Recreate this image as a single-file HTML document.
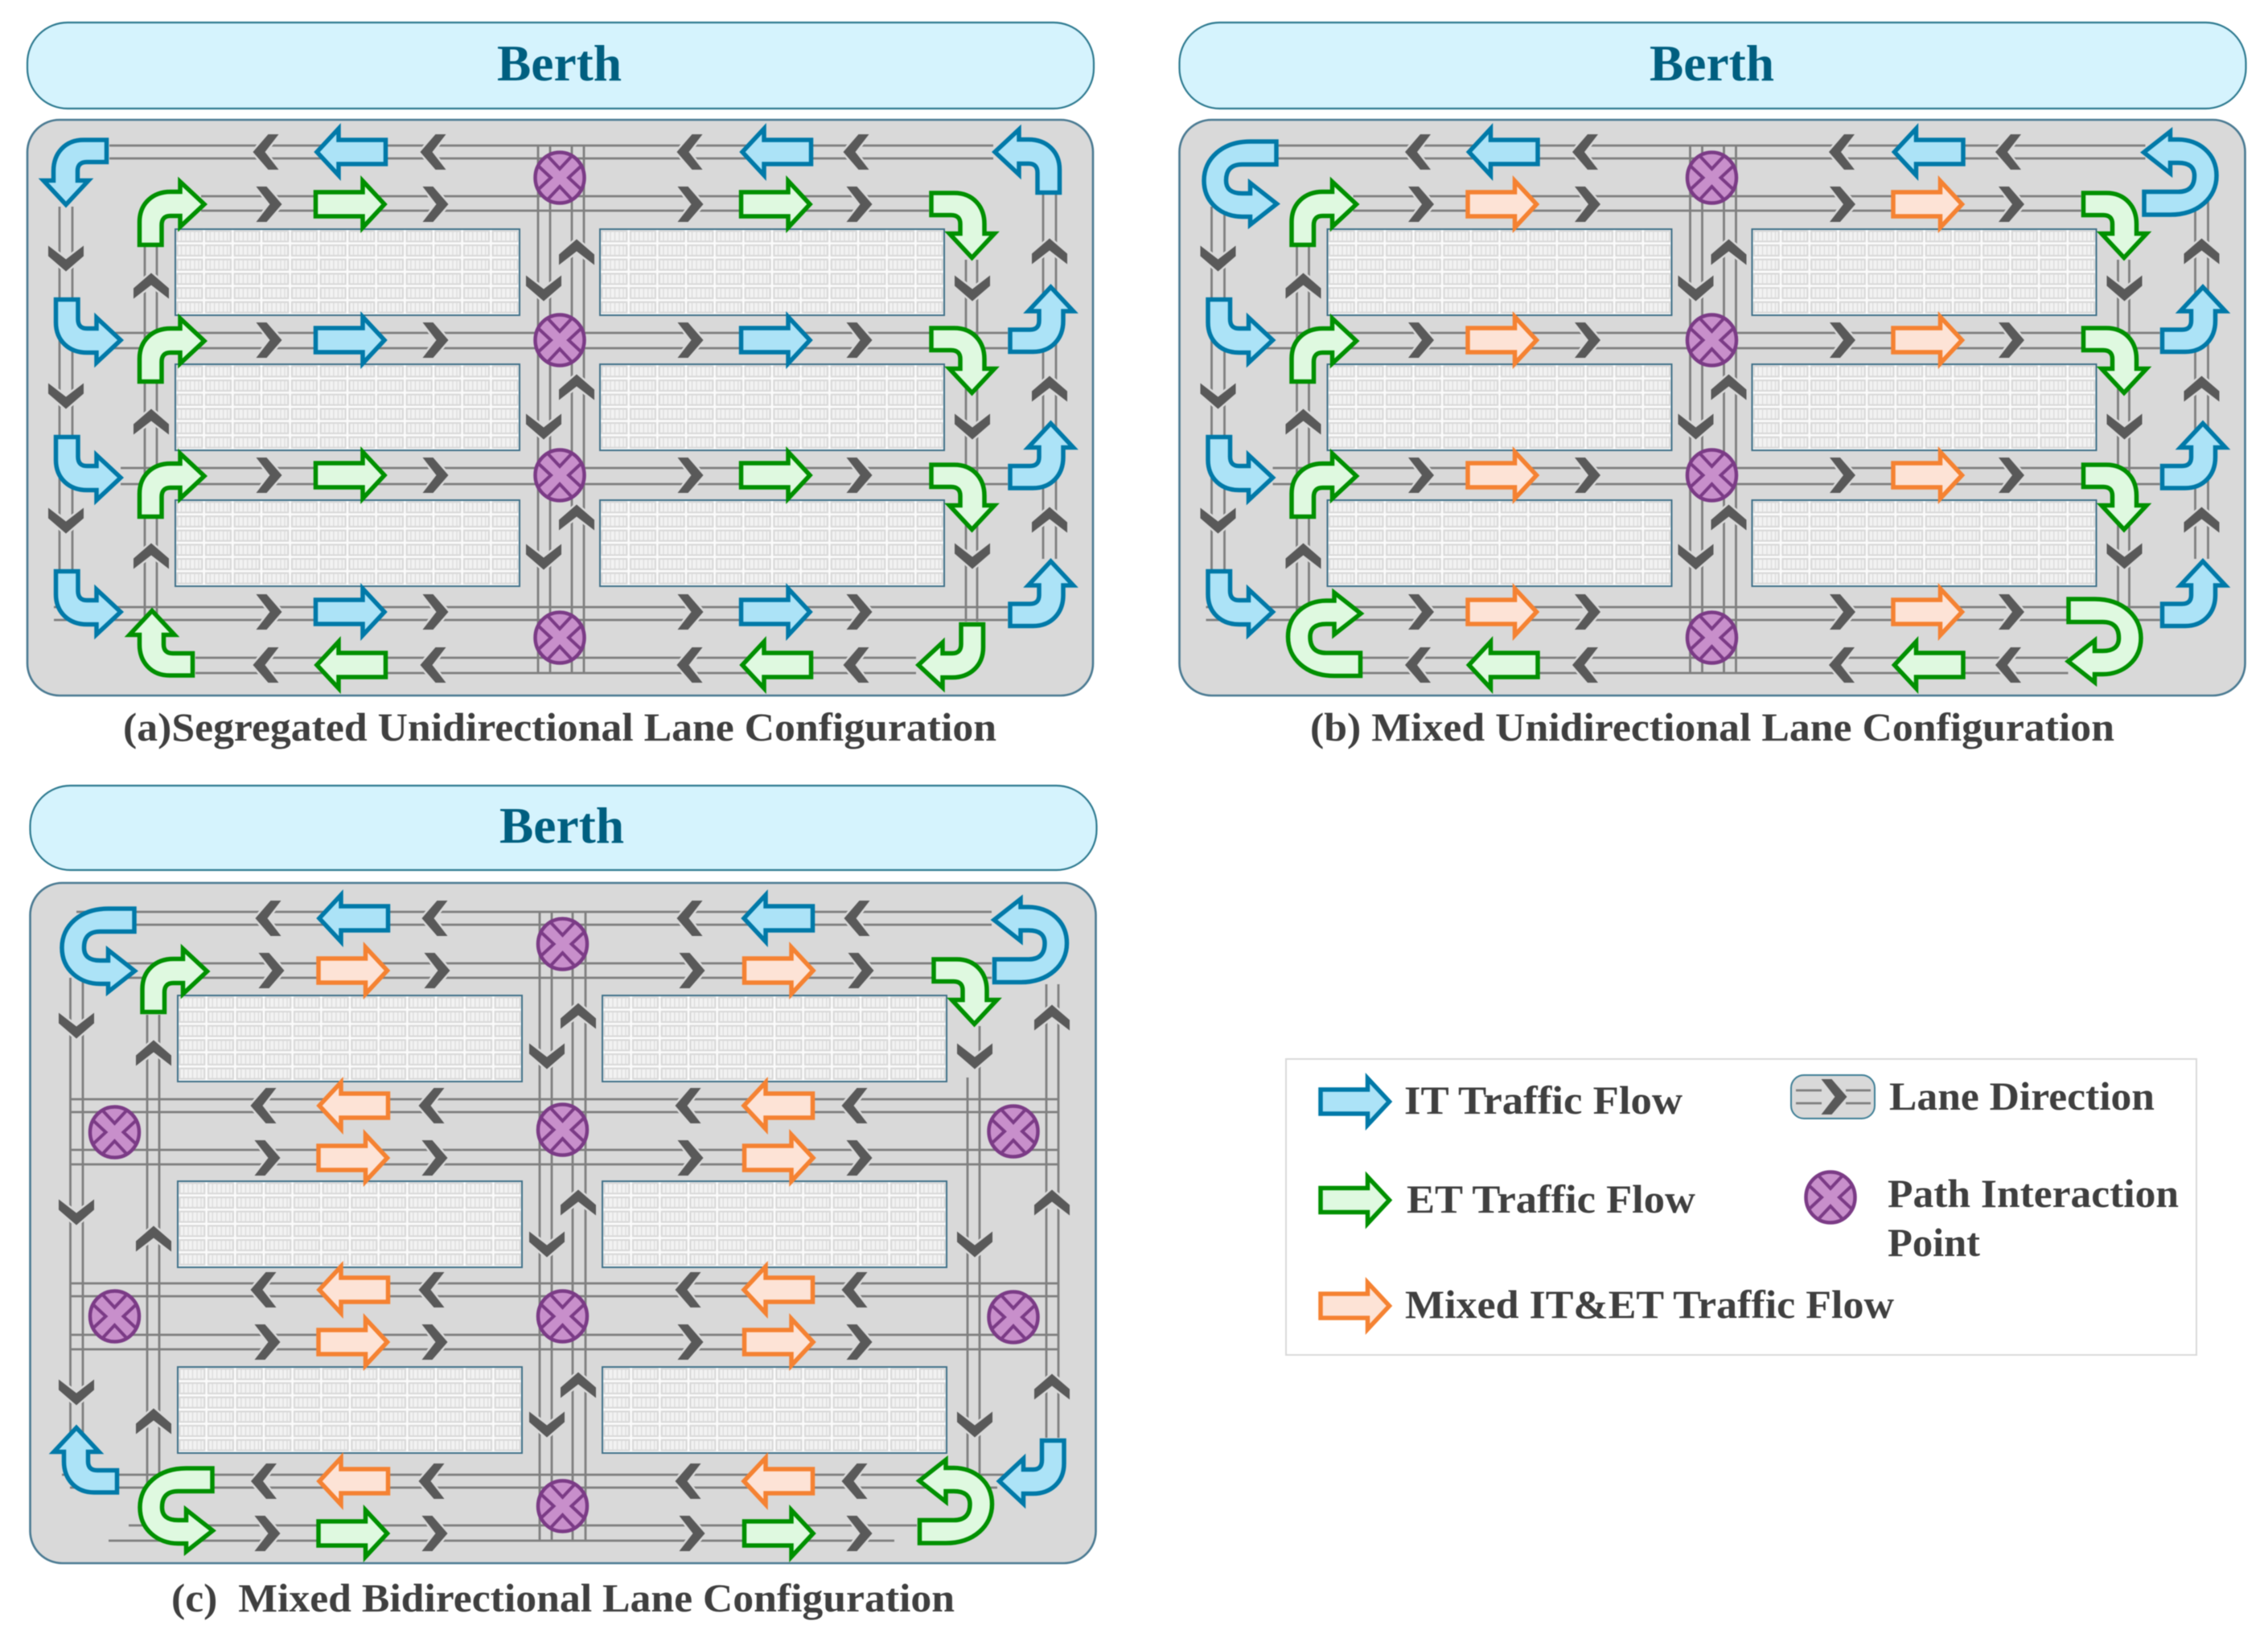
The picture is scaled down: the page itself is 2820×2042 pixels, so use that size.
<!DOCTYPE html>
<html lang="en">
<head>
<meta charset="utf-8">
<title>Lane Configurations</title>
<style>
html,body{margin:0;padding:0;background:#fff}
svg{display:block;filter:blur(.6px)}
text{font-family:"Liberation Serif",serif;font-weight:bold}
.bl{fill:#ace3f7;stroke:#0079a8}
.gr{fill:#dff9e0;stroke:#009000}
.or{fill:#fde3d6;stroke:#f58232}
.sh{stroke-width:5.5;stroke-linejoin:miter;stroke-miterlimit:4}
.ln{fill:none;stroke:#7f7f7f;stroke-width:2.8}
.cap{fill:#3f3f3f;font-size:50px}
.ber{fill:#005f80;font-size:63px}
.ban{fill:#d5f3fd;stroke:#2e7a90;stroke-width:2.2}
.pan{fill:#d9d9d9;stroke:#4a7a92;stroke-width:2.6}
</style>
</head>
<body>
<svg xmlns="http://www.w3.org/2000/svg" width="2820" height="2042" viewBox="0 0 2820 2042">
<defs>
<pattern id="cell" patternUnits="userSpaceOnUse" width="35.67" height="17.67">
<rect width="35.67" height="17.67" fill="#fbfbfb"/>
<rect x="1.3" y="1.3" width="33" height="15" fill="#d8d8d8"/>
<rect x="3.4" y="3.4" width="28.8" height="10.9" fill="#f2f2f2"/>
<path d="M7.5 3.4v10.9M13 3.4v10.9M18.500 3.4v10.9M24 3.4v10.9M29 3.4v10.9" stroke="#dadada" stroke-width="1.2"/>
</pattern>
<g id="blk"><rect width="428" height="107" fill="url(#cell)" stroke="#3f7088" stroke-width="2"/></g>
<path id="A" class="sh" d="M-42.5 -15H16V-29L43 0L16 29V15H-42.5Z"/>
<path id="B" class="sh" transform="translate(-42.5,-42)" d="M2.5 81.500V53C2.500 30 19 15.500 41 15.500H53V3L83 31L53 59V45.500H41Q30 45.500 30 57V81.500Z"/>
<path id="U" class="sh" transform="translate(-47.5,-54.5)" d="M92.500 106.500H60C25 106.500 2.500 85 2.500 58C2.500 30 25 13 50 13H60V3L93 29L60 55V42H50Q30 42 30 58Q30 78 50 78H92.500Z"/>
<path id="C" fill="#595959" stroke="#d9d9d9" stroke-width="5" paint-order="stroke" d="M-15.500 -22H-2.500L16.500 0L-2.500 22H-15.500L1.500 0Z"/>
<g id="X"><ellipse rx="30.5" ry="31.5" fill="#c88fcb" stroke="#7b3b86" stroke-width="4.5"/>
<path fill="none" stroke="#7b3b86" stroke-width="4" d="M-14 -26L0 -11L14 -26M-14 26L0 11L14 26M-26 -14L-11 0L-26 14M26 -14L11 0L26 14"/></g>

<g id="base">
<path class="ln" d="M136 181H1235M136 197H1235M250 244H1155M250 262H1155M120 414H1253M120 433H1253M150 582H1253M150 602H1253M67 755H1253M67 771H1253M243 818H1139M243 837H1139
M74 257V755M90 257V755M180 307V771M195 307V771M669 181V837M684 181V837M711 181V837M726 181V837M1201 323V773M1215 323V773M1297 242V695M1313 242V695"/>
<use href="#blk" x="218" y="285"/><use href="#blk" x="218" y="453"/><use href="#blk" x="218" y="622"/>
<use href="#blk" x="746" y="285"/><use href="#blk" x="746" y="453"/><use href="#blk" x="746" y="622"/>
<g>
<use href="#C" transform="translate(331,189) rotate(180)"/><use href="#C" transform="translate(539,189) rotate(180)"/><use href="#C" transform="translate(858,189) rotate(180)"/><use href="#C" transform="translate(1065,189) rotate(180)"/>
<use href="#C" transform="translate(331,827) rotate(180)"/><use href="#C" transform="translate(539,827) rotate(180)"/><use href="#C" transform="translate(858,827) rotate(180)"/><use href="#C" transform="translate(1065,827) rotate(180)"/>
<use href="#C" x="334" y="254"/><use href="#C" x="541" y="254"/><use href="#C" x="858" y="254"/><use href="#C" x="1068" y="254"/>
<use href="#C" x="334" y="423"/><use href="#C" x="541" y="423"/><use href="#C" x="858" y="423"/><use href="#C" x="1068" y="423"/>
<use href="#C" x="334" y="591"/><use href="#C" x="541" y="591"/><use href="#C" x="858" y="591"/><use href="#C" x="1068" y="591"/>
<use href="#C" x="334" y="761"/><use href="#C" x="541" y="761"/><use href="#C" x="858" y="761"/><use href="#C" x="1068" y="761"/>
<use href="#C" transform="translate(82,321) rotate(90)"/><use href="#C" transform="translate(82,492) rotate(90)"/><use href="#C" transform="translate(82,647) rotate(90)"/>
<use href="#C" transform="translate(676,358) rotate(90)"/><use href="#C" transform="translate(676,530) rotate(90)"/><use href="#C" transform="translate(676,692) rotate(90)"/>
<use href="#C" transform="translate(1209,358) rotate(90)"/><use href="#C" transform="translate(1209,530) rotate(90)"/><use href="#C" transform="translate(1209,691) rotate(90)"/>
<use href="#C" transform="translate(188,356) rotate(-90)"/><use href="#C" transform="translate(188,525) rotate(-90)"/><use href="#C" transform="translate(188,692) rotate(-90)"/>
<use href="#C" transform="translate(717,314) rotate(-90)"/><use href="#C" transform="translate(717,482) rotate(-90)"/><use href="#C" transform="translate(717,644) rotate(-90)"/>
<use href="#C" transform="translate(1305,313) rotate(-90)"/><use href="#C" transform="translate(1305,484) rotate(-90)"/><use href="#C" transform="translate(1305,647) rotate(-90)"/>
</g>
<use href="#X" x="696" y="221"/><use href="#X" x="696" y="423"/><use href="#X" x="696" y="591"/><use href="#X" x="696" y="793"/>
</g>
</defs>

<rect width="2820" height="2042" fill="#fff"/>

<!-- Panel a -->
<rect class="ban" x="34" y="28" width="1326" height="107" rx="50" ry="50"/>
<text class="ber" x="618" y="100" textLength="155" lengthAdjust="spacingAndGlyphs">Berth</text>
<rect class="pan" x="34" y="149" width="1325" height="716" rx="40" ry="40"/>
<use href="#base"/>
<use href="#A" class="bl" transform="translate(437,189) rotate(180)"/><use href="#A" class="bl" transform="translate(966,189) rotate(180)"/>
<use href="#A" class="gr" x="435" y="254"/><use href="#A" class="gr" x="964" y="254"/>
<use href="#A" class="bl" x="435" y="423"/><use href="#A" class="bl" x="964" y="423"/>
<use href="#A" class="gr" x="435" y="591"/><use href="#A" class="gr" x="964" y="591"/>
<use href="#A" class="bl" x="435" y="761"/><use href="#A" class="bl" x="964" y="761"/>
<use href="#A" class="gr" transform="translate(437,827) rotate(180)"/><use href="#A" class="gr" transform="translate(966,827) rotate(180)"/>
<use href="#B" class="bl" transform="matrix(0,1,1,0,93,214)"/>
<use href="#B" class="bl" transform="matrix(1,0,0,-1,109.5,412)"/>
<use href="#B" class="bl" transform="matrix(1,0,0,-1,109.5,583)"/>
<use href="#B" class="bl" transform="matrix(1,0,0,-1,109.5,750)"/>
<use href="#B" class="gr" transform="matrix(1,0,0,1,213.5,265)"/>
<use href="#B" class="gr" transform="matrix(1,0,0,1,213.5,435)"/>
<use href="#B" class="gr" transform="matrix(1,0,0,1,213.5,603)"/>
<use href="#B" class="gr" transform="matrix(0,-1,1,0,200,800)"/>
<use href="#B" class="gr" transform="matrix(0,1,-1,0,1197.5,280)"/>
<use href="#B" class="gr" transform="matrix(0,1,-1,0,1197.5,448)"/>
<use href="#B" class="gr" transform="matrix(0,1,-1,0,1197.5,618)"/>
<use href="#B" class="gr" transform="matrix(-1,0,0,-1,1182.5,816)"/>
<use href="#B" class="bl" transform="matrix(-1,0,0,1,1277.5,200)"/>
<use href="#B" class="bl" transform="matrix(0,-1,-1,0,1295.5,397.5)"/>
<use href="#B" class="bl" transform="matrix(0,-1,-1,0,1295.5,567)"/>
<use href="#B" class="bl" transform="matrix(0,-1,-1,0,1295.5,738.5)"/>
<text class="cap" x="153" y="921" textLength="1086" lengthAdjust="spacingAndGlyphs">(a)Segregated Unidirectional Lane Configuration</text>

<!-- Panel b -->
<rect class="ban" x="1466.5" y="28" width="1326" height="107" rx="50" ry="50"/>
<text class="ber" x="2051" y="100" textLength="155" lengthAdjust="spacingAndGlyphs">Berth</text>
<rect class="pan" x="1466.5" y="149" width="1325" height="716" rx="40" ry="40"/>
<use href="#base" x="1432.5"/>
<g transform="translate(1432.5,0)">
<use href="#A" class="bl" transform="translate(437,189) rotate(180)"/><use href="#A" class="bl" transform="translate(966,189) rotate(180)"/>
<use href="#A" class="or" x="435" y="254"/><use href="#A" class="or" x="964" y="254"/>
<use href="#A" class="or" x="435" y="423"/><use href="#A" class="or" x="964" y="423"/>
<use href="#A" class="or" x="435" y="591"/><use href="#A" class="or" x="964" y="591"/>
<use href="#A" class="or" x="435" y="761"/><use href="#A" class="or" x="964" y="761"/>
<use href="#A" class="gr" transform="translate(437,827) rotate(180)"/><use href="#A" class="gr" transform="translate(966,827) rotate(180)"/>
<use href="#B" class="bl" transform="matrix(1,0,0,-1,109.5,412)"/>
<use href="#B" class="bl" transform="matrix(1,0,0,-1,109.5,583)"/>
<use href="#B" class="bl" transform="matrix(1,0,0,-1,109.5,750)"/>
<use href="#B" class="gr" transform="matrix(1,0,0,1,213.5,265)"/>
<use href="#B" class="gr" transform="matrix(1,0,0,1,213.5,435)"/>
<use href="#B" class="gr" transform="matrix(1,0,0,1,213.5,603)"/>
<use href="#B" class="gr" transform="matrix(0,1,-1,0,1197.5,280)"/>
<use href="#B" class="gr" transform="matrix(0,1,-1,0,1197.5,448)"/>
<use href="#B" class="gr" transform="matrix(0,1,-1,0,1197.5,618)"/>
<use href="#B" class="bl" transform="matrix(0,-1,-1,0,1295.5,397.5)"/>
<use href="#B" class="bl" transform="matrix(0,-1,-1,0,1295.5,567)"/>
<use href="#B" class="bl" transform="matrix(0,-1,-1,0,1295.5,738.5)"/>
</g>
<use href="#U" class="bl" transform="matrix(1,0,0,-1,1542,228)"/>
<use href="#U" class="bl" transform="matrix(-1,0,0,1,2711,215)"/>
<use href="#U" class="gr" transform="matrix(1,0,0,1,1646.5,788.5)"/>
<use href="#U" class="gr" transform="matrix(-1,0,0,-1,2617,797)"/>
<text class="cap" x="1629" y="921" textLength="1000" lengthAdjust="spacingAndGlyphs">(b) Mixed Unidirectional Lane Configuration</text>

<!-- Panel c -->
<rect class="ban" x="37.5" y="977" width="1326" height="105" rx="50" ry="50"/>
<text class="ber" x="621" y="1048" textLength="155" lengthAdjust="spacingAndGlyphs">Berth</text>
<rect class="pan" x="37.5" y="1098" width="1325" height="846" rx="40" ry="40"/>
<path class="ln" d="M95 1134H1233M95 1150H1233M120 1198H1233M120 1216H1233M87 1367H1316M87 1383H1316M87 1430H1316M87 1448H1316M87 1596H1316M87 1612H1316M87 1660H1316M87 1678H1316M77 1834H1316M87 1850H1240M160 1897H1140M135 1916H1112
M87.5 1216V1790M103 1216V1790M183 1262V1850M198 1262V1850M671 1134V1916M686 1134V1916M712 1134V1916M728 1134V1916M1203 1340V1834M1218 1276V1834M1301 1224V1788M1316 1224V1788"/>
<use href="#blk" x="221" y="1238"/><use href="#blk" x="221" y="1469"/><use href="#blk" x="221" y="1700"/>
<use href="#blk" x="749" y="1238"/><use href="#blk" x="749" y="1469"/><use href="#blk" x="749" y="1700"/>
<use href="#C" transform="translate(334,1142) rotate(180)"/><use href="#C" transform="translate(541,1142) rotate(180)"/><use href="#C" transform="translate(858,1142) rotate(180)"/><use href="#C" transform="translate(1066,1142) rotate(180)"/>
<use href="#C" transform="translate(328,1375) rotate(180)"/><use href="#C" transform="translate(537,1375) rotate(180)"/><use href="#C" transform="translate(856,1375) rotate(180)"/><use href="#C" transform="translate(1063,1375) rotate(180)"/>
<use href="#C" transform="translate(328,1604) rotate(180)"/><use href="#C" transform="translate(537,1604) rotate(180)"/><use href="#C" transform="translate(856,1604) rotate(180)"/><use href="#C" transform="translate(1063,1604) rotate(180)"/>
<use href="#C" transform="translate(328.5,1842) rotate(180)"/><use href="#C" transform="translate(537,1842) rotate(180)"/><use href="#C" transform="translate(856,1842) rotate(180)"/><use href="#C" transform="translate(1063,1842) rotate(180)"/>
<use href="#C" x="337" y="1207"/><use href="#C" x="543" y="1207"/><use href="#C" x="860" y="1207"/><use href="#C" x="1070" y="1207"/>
<use href="#C" x="332" y="1440"/><use href="#C" x="540" y="1440"/><use href="#C" x="858" y="1440"/><use href="#C" x="1068" y="1440"/>
<use href="#C" x="332" y="1669"/><use href="#C" x="540" y="1669"/><use href="#C" x="858" y="1669"/><use href="#C" x="1068" y="1669"/>
<use href="#C" x="332" y="1907"/><use href="#C" x="540" y="1907"/><use href="#C" x="860" y="1907"/><use href="#C" x="1068" y="1907"/>
<use href="#C" transform="translate(95,1275) rotate(90)"/><use href="#C" transform="translate(95,1507) rotate(90)"/><use href="#C" transform="translate(95,1731) rotate(90)"/>
<use href="#C" transform="translate(680,1313) rotate(90)"/><use href="#C" transform="translate(680,1547) rotate(90)"/><use href="#C" transform="translate(680,1771) rotate(90)"/>
<use href="#C" transform="translate(1212,1313) rotate(90)"/><use href="#C" transform="translate(1212,1547) rotate(90)"/><use href="#C" transform="translate(1212,1771) rotate(90)"/>
<use href="#C" transform="translate(191,1310) rotate(-90)"/><use href="#C" transform="translate(191,1541) rotate(-90)"/><use href="#C" transform="translate(191,1768) rotate(-90)"/>
<use href="#C" transform="translate(719,1264) rotate(-90)"/><use href="#C" transform="translate(719,1496) rotate(-90)"/><use href="#C" transform="translate(719,1723) rotate(-90)"/>
<use href="#C" transform="translate(1308,1266) rotate(-90)"/><use href="#C" transform="translate(1308,1496) rotate(-90)"/><use href="#C" transform="translate(1308,1725) rotate(-90)"/>
<use href="#X" x="699.5" y="1174"/><use href="#X" x="699.5" y="1405"/><use href="#X" x="699.5" y="1637"/><use href="#X" x="699.5" y="1873"/>
<use href="#X" x="142.5" y="1408"/><use href="#X" x="142.5" y="1637"/>
<use href="#X" x="1260" y="1407"/><use href="#X" x="1260" y="1638"/>
<use href="#A" class="bl" transform="translate(440,1142) rotate(180)"/><use href="#A" class="bl" transform="translate(968,1142) rotate(180)"/>
<use href="#A" class="or" x="438.5" y="1207"/><use href="#A" class="or" x="968" y="1207"/>
<use href="#A" class="or" transform="translate(440,1375) rotate(180)"/><use href="#A" class="or" transform="translate(968,1375) rotate(180)"/>
<use href="#A" class="or" x="438.5" y="1440"/><use href="#A" class="or" x="968" y="1440"/>
<use href="#A" class="or" transform="translate(440,1604) rotate(180)"/><use href="#A" class="or" transform="translate(968,1604) rotate(180)"/>
<use href="#A" class="or" x="438.5" y="1669"/><use href="#A" class="or" x="968" y="1669"/>
<use href="#A" class="or" transform="translate(440,1842) rotate(180)"/><use href="#A" class="or" transform="translate(968,1842) rotate(180)"/>
<use href="#A" class="gr" x="438.5" y="1907"/><use href="#A" class="gr" x="968" y="1907"/>
<use href="#U" class="bl" transform="matrix(1,0,0,-1,122,1182)"/>
<use href="#B" class="gr" transform="matrix(1,0,0,1,217,1219)"/>
<use href="#U" class="bl" transform="matrix(-1,0,0,1,1281.5,1169.5)"/>
<use href="#B" class="gr" transform="matrix(0,1,-1,0,1200.5,1233)"/>
<use href="#B" class="bl" transform="matrix(0,-1,1,0,106,1816)"/>
<use href="#U" class="gr" transform="matrix(1,0,0,-1,219,1878)"/>
<use href="#U" class="gr" transform="matrix(-1,0,0,1,1188.5,1867)"/>
<use href="#B" class="bl" transform="matrix(-1,0,0,-1,1283,1831)"/>
<text class="cap" x="213" y="2004" textLength="974" lengthAdjust="spacingAndGlyphs">(c)&#160; Mixed Bidirectional Lane Configuration</text>

<!-- Legend -->
<rect x="1599" y="1317" width="1132" height="368" fill="#fff" stroke="#d9d9d9" stroke-width="2"/>
<use href="#A" class="bl" transform="translate(1684.5,1370)"/>
<use href="#A" class="gr" transform="translate(1684.5,1492.5)"/>
<use href="#A" class="or" transform="translate(1684.5,1624)"/>
<rect x="2227" y="1337" width="104" height="54" rx="16" ry="16" fill="#d9d9d9" stroke="#3f7f96" stroke-width="2"/>
<path class="ln" d="M2233 1356H2265M2233 1372H2265M2295 1356H2326M2295 1372H2326"/>
<use href="#C" x="2280" y="1364"/>
<use href="#X" x="2276" y="1489"/>
<text class="cap" x="1746" y="1385" textLength="346" lengthAdjust="spacingAndGlyphs">IT Traffic Flow</text>
<text class="cap" x="1749" y="1508" textLength="359" lengthAdjust="spacingAndGlyphs">ET Traffic Flow</text>
<text class="cap" x="1747" y="1639" textLength="608" lengthAdjust="spacingAndGlyphs">Mixed IT&amp;ET Traffic Flow</text>
<text class="cap" x="2349" y="1380" textLength="330" lengthAdjust="spacingAndGlyphs">Lane Direction</text>
<text class="cap" x="2347" y="1501" textLength="362" lengthAdjust="spacingAndGlyphs">Path Interaction</text>
<text class="cap" x="2347" y="1562" textLength="115" lengthAdjust="spacingAndGlyphs">Point</text>
</svg>
</body>
</html>
